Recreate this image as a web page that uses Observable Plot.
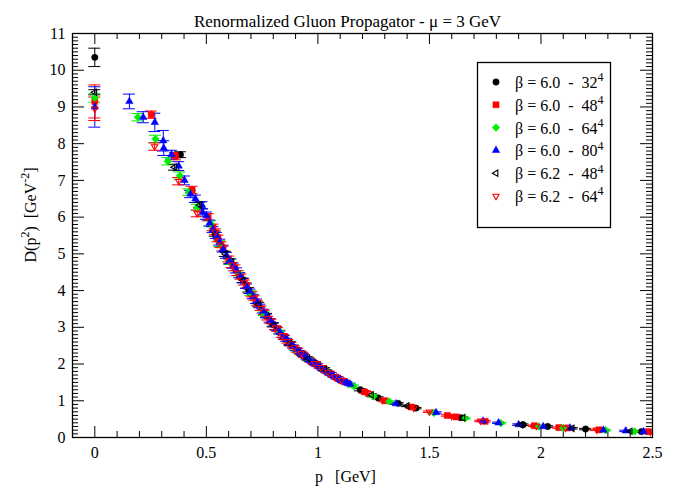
<!DOCTYPE html>
<html><head><meta charset="utf-8">
<script src="https://cdn.jsdelivr.net/npm/d3@7"></script>
<script src="https://cdn.jsdelivr.net/npm/@observablehq/plot@0.6"></script>
<style>
body{margin:0;background:#fff}
svg{white-space:pre}
svg text{font-family:"Liberation Serif","DejaVu Serif",serif !important}
</style>
</head><body><div id="chart"></div>
<script>
// [p (GeV), D(p^2) (GeV^-2), error]
const b60_L32 = [[0,10.35,0.25],[0.384,7.70,0.08],[0.54,5.55,0.07],[0.61,4.80,0.06],[0.69,4.02,0.06],[0.77,3.33,0.05],[0.85,2.72,0.05],[0.93,2.28,0.04],[0.99,2.02,0.04],[1.19,1.30,0.03],[1.27,1.08,0.03],[1.36,0.93,0.02],[1.44,0.80,0.02],[1.64,0.54,0.02],[1.92,0.35,0.02],[2.03,0.30,0.02],[2.20,0.23,0.02],[2.45,0.16,0.02]];
const b60_L48 = [[0,9.15,0.45],[0.253,8.79,0.1],[0.362,7.66,0.1],[0.436,6.74,0.1],[0.508,6.0,0.1],[0.53,5.72,0.09],[0.552,5.42,0.09],[0.575,5.16,0.08],[0.60,4.86,0.08],[0.628,4.62,0.08],[0.655,4.38,0.07],[0.68,4.14,0.07],[0.705,3.9,0.07],[0.73,3.66,0.06],[0.76,3.41,0.06],[0.79,3.16,0.06],[0.82,2.94,0.05],[0.85,2.73,0.05],[0.88,2.54,0.05],[0.91,2.37,0.05],[0.94,2.22,0.04],[0.97,2.09,0.04],[1.0,1.97,0.04],[1.03,1.85,0.04],[1.06,1.73,0.04],[1.09,1.62,0.04],[1.12,1.52,0.04],[1.21,1.24,0.03],[1.30,1.00,0.03],[1.42,0.83,0.03],[1.58,0.60,0.02],[1.62,0.56,0.02],[1.75,0.44,0.02],[1.97,0.32,0.02],[2.08,0.27,0.02],[2.12,0.26,0.02],[2.26,0.21,0.02],[2.48,0.16,0.02]];
const b60_L64 = [[0,9.25,0.12],[0.193,8.72,0.1],[0.272,8.13,0.1],[0.327,7.52,0.1],[0.381,7.13,0.1],[0.421,6.68,0.09],[0.459,6.27,0.08],[0.52,5.82,0.08],[0.56,5.28,0.08],[0.605,4.78,0.07],[0.645,4.47,0.07],[0.70,3.93,0.06],[0.76,3.37,0.05],[0.83,2.87,0.05],[0.90,2.41,0.04],[0.96,2.14,0.04],[1.04,1.82,0.03],[1.16,1.40,0.03],[1.25,1.12,0.03],[1.32,0.98,0.02],[1.52,0.67,0.02],[1.66,0.52,0.02],[1.82,0.39,0.02],[1.99,0.30,0.02],[2.10,0.26,0.02],[2.29,0.20,0.02],[2.42,0.165,0.02]];
const b60_L80 = [[0,9.0,0.55],[0.155,9.15,0.2],[0.217,8.72,0.15],[0.269,8.58,0.25],[0.307,8.08,0.28],[0.309,7.88,0.2],[0.344,7.70,0.12],[0.376,7.39,0.12],[0.402,7.0,0.12],[0.429,6.63,0.1],[0.451,6.5,0.1],[0.481,6.32,0.1],[0.483,6.13,0.1],[0.50,6.04,0.1],[0.515,5.84,0.08],[0.53,5.66,0.08],[0.545,5.5,0.08],[0.56,5.32,0.08],[0.575,5.13,0.08],[0.59,4.96,0.08],[0.605,4.80,0.07],[0.62,4.68,0.07],[0.635,4.55,0.07],[0.65,4.42,0.07],[0.665,4.27,0.06],[0.68,4.12,0.06],[0.695,3.98,0.06],[0.71,3.84,0.06],[0.725,3.71,0.06],[0.74,3.58,0.05],[0.755,3.44,0.05],[0.77,3.31,0.05],[0.785,3.19,0.05],[0.80,3.08,0.05],[0.815,2.97,0.05],[0.83,2.86,0.04],[0.845,2.76,0.04],[0.86,2.66,0.04],[0.875,2.57,0.04],[0.89,2.48,0.04],[0.905,2.40,0.04],[0.92,2.32,0.04],[0.935,2.25,0.04],[0.95,2.17,0.03],[0.965,2.10,0.03],[0.98,2.04,0.03],[0.995,1.98,0.03],[1.01,1.92,0.03],[1.025,1.86,0.03],[1.04,1.80,0.03],[1.055,1.74,0.03],[1.07,1.68,0.03],[1.085,1.63,0.03],[1.10,1.58,0.03],[1.115,1.53,0.03],[1.13,1.49,0.03],[1.145,1.45,0.03],[1.35,0.92,0.02],[1.53,0.68,0.02],[1.74,0.45,0.02],[1.81,0.40,0.02],[1.90,0.35,0.02],[2.01,0.30,0.02],[2.13,0.26,0.02],[2.28,0.20,0.02],[2.38,0.18,0.02],[2.46,0.16,0.02]];
const b62_L48 = [[0,9.4,0.07],[0.357,7.36,0.08],[0.47,6.33,0.08],[0.585,5.0,0.07],[0.665,4.28,0.06],[0.735,3.62,0.06],[0.80,3.06,0.05],[0.875,2.56,0.05],[0.955,2.15,0.04],[1.03,1.86,0.04],[1.24,1.16,0.03],[1.40,0.86,0.02],[1.65,0.54,0.02],[1.91,0.345,0.02],[2.14,0.25,0.02],[2.40,0.17,0.02]];
const b62_L64 = [[0,8.95,0.32],[0.268,7.92,0.1],[0.376,6.98,0.1],[0.459,6.1,0.09],[0.54,5.6,0.08],[0.565,5.25,0.08],[0.615,4.70,0.07],[0.64,4.48,0.07],[0.67,4.22,0.07],[0.715,3.80,0.06],[0.745,3.52,0.06],[0.775,3.25,0.05],[0.81,2.99,0.05],[0.84,2.78,0.05],[0.865,2.62,0.05],[0.895,2.45,0.04],[0.925,2.30,0.04],[0.985,2.02,0.04],[1.015,1.91,0.04],[1.045,1.78,0.03],[1.075,1.66,0.03],[1.105,1.56,0.03],[1.22,1.22,0.03],[1.29,1.02,0.02],[1.43,0.80,0.02],[1.50,0.70,0.02],[1.60,0.58,0.02],[1.73,0.45,0.02],[1.98,0.31,0.02],[2.11,0.26,0.02],[2.25,0.21,0.02],[2.49,0.155,0.02]];

const seriesNames = ["β = 6.0  -  32^4","β = 6.0  -  48^4","β = 6.0  -  64^4","β = 6.0  -  80^4","β = 6.2  -  48^4","β = 6.2  -  64^4"];
const xTicks = [0, 0.5, 1, 1.5, 2, 2.5];
const yTicks = [0,1,2,3,4,5,6,7,8,9,10,11];
const titleText = "Renormalized Gluon Propagator - μ = 3 GeV";
const xLabel = "p   [GeV]";
const yLabel = "D(p^2)  [GeV^-2]";

const FONT = '"Liberation Serif","DejaVu Serif",serif';

// custom symbols
const triDown = {draw(ctx, size){const r=Math.sqrt(size/Math.PI)*1.25;ctx.moveTo(0,r);ctx.lineTo(r*0.866,-r/2);ctx.lineTo(-r*0.866,-r/2);ctx.closePath();}};
const triLeft = {draw(ctx, size){const r=Math.sqrt(size/Math.PI)*1.25;ctx.moveTo(-r,0);ctx.lineTo(r/2,-r*0.866);ctx.lineTo(r/2,r*0.866);ctx.closePath();}};
const triUp = {draw(ctx, size){const r=Math.sqrt(size/Math.PI)*1.35;ctx.moveTo(0,-r);ctx.lineTo(r*0.866,r/2);ctx.lineTo(-r*0.866,r/2);ctx.closePath();}};
const diamond = {draw(ctx, size){const r=Math.sqrt(size/Math.PI)*1.2;ctx.moveTo(0,-r);ctx.lineTo(r,0);ctx.lineTo(0,r);ctx.lineTo(-r,0);ctx.closePath();}};
const square = {draw(ctx, size){const r=Math.sqrt(size/Math.PI)*0.95;ctx.rect(-r,-r,2*r,2*r);}};
const circle = {draw(ctx, size){const r=Math.sqrt(size/Math.PI);ctx.moveTo(r,0);ctx.arc(0,0,r,0,2*Math.PI);}};

const series = [
  {data:b60_L32, color:"#000000", sym:circle, filled:true, r:3.2},
  {data:b60_L48, color:"#ff0000", sym:square, filled:true, r:3.2},
  {data:b60_L64, color:"#00ee00", sym:diamond, filled:true, r:3.2},
  {data:b60_L80, color:"#0000ff", sym:triUp, filled:true, r:3.2},
  {data:b62_L48, color:"#000000", sym:triLeft, filled:false, r:2.9},
  {data:b62_L64, color:"#ff0000", sym:triDown, filled:false, r:2.9}
];

const W=688, H=496, mL=72, mR=36, mT=33, mB=59;
const xDom=[-0.1,2.5], yDom=[0,11];
const xpx=(xDom[1]-xDom[0])/(W-mL-mR), ypx=(yDom[1]-yDom[0])/(H-mT-mB);
const capW = 6*xpx;

const xMinor = d3.range(-0.1, 2.501, 0.1).map(v=>+v.toFixed(2)).filter(v=>!xTicks.includes(v));
const yMinor = d3.range(0, 11.001, 0.1).map(v=>+v.toFixed(2)).filter(v=>!yTicks.includes(v));

const marks = [];
// ticks (inward, all four sides)
marks.push(Plot.ruleX(xTicks,{x:d=>d,y1:d=>yDom[0],y2:d=>yDom[0]+11*ypx,stroke:"#000"}));
marks.push(Plot.ruleX(xMinor,{x:d=>d,y1:d=>yDom[0],y2:d=>yDom[0]+6*ypx,stroke:"#000"}));
marks.push(Plot.ruleX(xTicks,{x:d=>d,y1:d=>yDom[1],y2:d=>yDom[1]-11*ypx,stroke:"#000"}));
marks.push(Plot.ruleX(xMinor,{x:d=>d,y1:d=>yDom[1],y2:d=>yDom[1]-6*ypx,stroke:"#000"}));
marks.push(Plot.ruleY(yTicks,{y:d=>d,x1:d=>xDom[0],x2:d=>xDom[0]+12*xpx,stroke:"#000"}));
marks.push(Plot.ruleY(yMinor,{y:d=>d,x1:d=>xDom[0],x2:d=>xDom[0]+6*xpx,stroke:"#000"}));
marks.push(Plot.ruleY(yTicks,{y:d=>d,x1:d=>xDom[1],x2:d=>xDom[1]-12*xpx,stroke:"#000"}));
marks.push(Plot.ruleY(yMinor,{y:d=>d,x1:d=>xDom[1],x2:d=>xDom[1]-6*xpx,stroke:"#000"}));

for (const s of series) {
  marks.push(Plot.ruleX(s.data,{x:d=>d[0],y1:d=>d[1]-d[2],y2:d=>d[1]+d[2],stroke:s.color,strokeWidth:1,clip:true}));
  marks.push(Plot.ruleY(s.data,{y:d=>d[1]+d[2],x1:d=>d[0]-capW,x2:d=>d[0]+capW,stroke:s.color,strokeWidth:1,clip:true}));
  marks.push(Plot.ruleY(s.data,{y:d=>d[1]-d[2],x1:d=>d[0]-capW,x2:d=>d[0]+capW,stroke:s.color,strokeWidth:1,clip:true}));
}
for (const s of series) {
  marks.push(Plot.dot(s.data,{x:d=>d[0],y:d=>d[1],symbol:s.sym,r:s.r,fill:s.filled?s.color:"none",stroke:s.color,strokeWidth:s.filled?0.5:1.1,clip:true}));
}
marks.push(Plot.frame({stroke:"#000",strokeWidth:1.3}));
marks.push(Plot.axisX(xTicks,{tickSize:0,tickPadding:9,tickFormat:d=>String(d),fontSize:16,fontFamily:FONT,label:null}));
marks.push(Plot.axisY(yTicks,{tickSize:0,tickPadding:7,tickFormat:d=>String(d),fontSize:16,fontFamily:FONT,label:null}));
marks.push(Plot.text([titleText],{frameAnchor:"top",dx:-15,dy:-19,fontSize:17,fontFamily:FONT,fill:"#000"}));
marks.push(Plot.text([xLabel],{frameAnchor:"bottom",dx:-17,dy:44,fontSize:16,fontFamily:FONT,fill:"#000"}));
marks.push(Plot.text([yLabel],{frameAnchor:"left",dx:-42,dy:27,rotate:-90,fontSize:16,fontFamily:FONT,fill:"#000"}));

const chart = Plot.plot({
  width:W, height:H, marginLeft:mL, marginRight:mR, marginTop:mT, marginBottom:mB,
  x:{domain:xDom}, y:{domain:yDom},
  style:{fontFamily:FONT, background:"#fff", color:"#000"},
  marks
});
document.getElementById("chart").appendChild(chart);

const svg = d3.select(chart);

// legend
const lg = svg.append("g").attr("text-anchor","start").attr("font-family",FONT);
lg.append("rect").attr("x",477.5).attr("y",62.5).attr("width",133).attr("height",165).attr("fill","#fff").attr("stroke","#000").attr("stroke-width",1.3);
series.forEach((s,i)=>{
  const y = 82 + i*22.8;
  lg.append("path").attr("transform",`translate(496,${y})`)
    .attr("d", d3.symbol().type(s.sym).size(Math.PI*s.r*s.r)())
    .attr("fill", s.filled?s.color:"none").attr("stroke", s.color).attr("stroke-width", s.filled?0.5:1.1);
  lg.append("text").attr("x",515).attr("y",y+6).attr("font-size",16).attr("text-anchor","start").attr("fill","#000").text(seriesNames[i]);
});

// superscripts: "^" marks
svg.selectAll("text").each(function(){
  const el = this;
  if (el.childElementCount === 0 && el.textContent.includes("^")) {
    const parts = el.textContent.split(/\^(-?\d+)/);
    el.textContent = "";
    parts.forEach((p,j)=>{
      if (p === "") return;
      const t = document.createElementNS("http://www.w3.org/2000/svg","tspan");
      t.textContent = p;
      if (j % 2 === 1) { t.setAttribute("dy","-0.55em"); t.setAttribute("font-size","0.75em"); }
      else if (j > 0) { t.setAttribute("dy","0.41em"); }
      el.appendChild(t);
    });
  }
});
</script></body></html>
